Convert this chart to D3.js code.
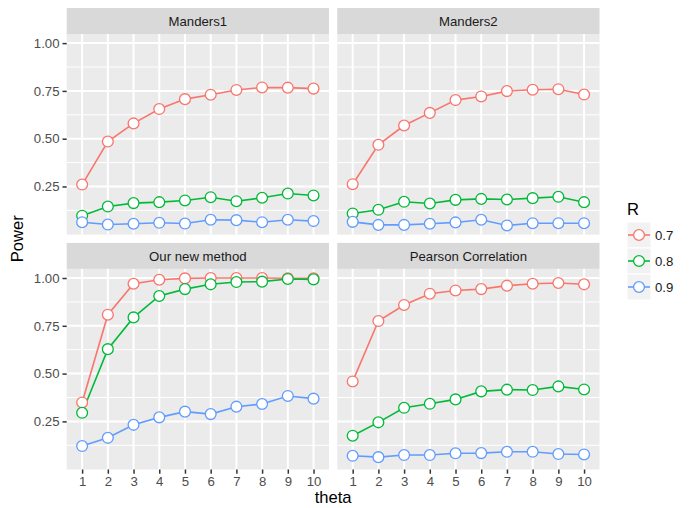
<!DOCTYPE html>
<html>
<head>
<meta charset="utf-8">
<script src="https://cdn.jsdelivr.net/npm/d3@7"></script>
<style>
  body { margin: 0; background: #fff; }
  text { font-family: "Liberation Sans", Arial, Helvetica, sans-serif; }
</style>
</head>
<body>
<div id="chart"></div>
<script>
// data
const theta = [1, 2, 3, 4, 5, 6, 7, 8, 9, 10];
const facets = ['Manders1', 'Manders2', 'Our new method', 'Pearson Correlation'];
const rLevels = ['0.7', '0.8', '0.9'];
const yTicks = [0.25, 0.50, 0.75, 1.00];

const manders1R07 = [0.26, 0.485, 0.58, 0.655, 0.707, 0.73, 0.755, 0.768, 0.767, 0.762];
const manders1R08 = [0.097, 0.145, 0.163, 0.168, 0.177, 0.194, 0.173, 0.191, 0.213, 0.203];
const manders1R09 = [0.063, 0.051, 0.055, 0.060, 0.056, 0.076, 0.074, 0.063, 0.076, 0.069];

const manders2R07 = [0.262, 0.468, 0.569, 0.635, 0.702, 0.721, 0.749, 0.756, 0.759, 0.731];
const manders2R08 = [0.109, 0.128, 0.170, 0.161, 0.180, 0.185, 0.182, 0.189, 0.196, 0.168];
const manders2R09 = [0.065, 0.049, 0.049, 0.055, 0.062, 0.076, 0.046, 0.058, 0.058, 0.058];

const newMethodR07 = [0.349, 0.808, 0.970, 0.991, 0.998, 1.0, 1.0, 1.0, 0.999, 0.999];
const newMethodR08 = [0.295, 0.628, 0.794, 0.906, 0.942, 0.967, 0.979, 0.981, 0.995, 0.993];
const newMethodR09 = [0.121, 0.164, 0.232, 0.271, 0.301, 0.288, 0.327, 0.341, 0.383, 0.369];

const pearsonR07 = [0.459, 0.775, 0.859, 0.918, 0.935, 0.942, 0.960, 0.970, 0.974, 0.967];
const pearsonR08 = [0.175, 0.245, 0.321, 0.342, 0.365, 0.407, 0.416, 0.414, 0.433, 0.417];
const pearsonR09 = [0.070, 0.063, 0.074, 0.074, 0.083, 0.084, 0.091, 0.091, 0.079, 0.077];

const colors = ['#F8766D', '#00BA38', '#619CFF'];

// facet -> list of series (one per R level)
const panelSeries = [
    [manders1R07, manders1R08, manders1R09],
    [manders2R07, manders2R08, manders2R09],
    [newMethodR07, newMethodR08, newMethodR09],
    [pearsonR07, pearsonR08, pearsonR09]
];

const width = 689;
const height = 508;
const margin = { top: 8, right: 89.5, bottom: 38.5, left: 66.7 };
const gap = 8.3;
const stripH = 26;

const plotW = width - margin.left - margin.right;
const plotH = height - margin.top - margin.bottom;
const panelW = (plotW - gap) / 2;
const panelH = (plotH - gap) / 2 - stripH;

const svg = d3.select('#chart')
    .append('svg')
    .attr('width', width)
    .attr('height', height);

// scales shared by all panels (fixed scales)
const xScale = d3.scalePoint()
    .domain(theta)
    .range([0, panelW])
    .padding(0.6);

const allValues = panelSeries.flat(2);
const yMin = d3.min(allValues);
const yMax = d3.max(allValues);
const yPad = (yMax - yMin) * 0.05;
const yScale = d3.scaleLinear()
    .domain([yMin - yPad, yMax + yPad])
    .range([panelH, 0]);

const minorTicks = [];
yTicks.forEach((t, i) => {
    const prev = i === 0 ? t - (yTicks[1] - yTicks[0]) : yTicks[i - 1];
    const m = (t + prev) / 2;
    if (m >= yScale.domain()[0] && m <= yScale.domain()[1]) minorTicks.push(m);
});

const line = d3.line()
    .x((d, i) => xScale(theta[i]))
    .y(d => yScale(d));

facets.forEach((name, p) => {
    const col = p % 2;
    const row = Math.floor(p / 2);
    const px = margin.left + col * (panelW + gap);
    const py = margin.top + row * (stripH + panelH + gap);

    const g = svg.append('g').attr('transform', `translate(${px},${py})`);

    // strip
    g.append('rect')
        .attr('width', panelW)
        .attr('height', stripH)
        .attr('fill', '#d9d9d9');
    g.append('text')
        .attr('x', panelW / 2)
        .attr('y', stripH / 2)
        .attr('dy', '0.36em')
        .attr('text-anchor', 'middle')
        .attr('fill', '#1a1a1a')
        .style('font-size', '13.2px')
        .text(name);

    const panel = g.append('g').attr('transform', `translate(0,${stripH})`);

    panel.append('rect')
        .attr('width', panelW)
        .attr('height', panelH)
        .attr('fill', '#ebebeb');

    // minor grid
    panel.selectAll('.minor')
        .data(minorTicks)
        .enter().append('line')
        .attr('x1', 0).attr('x2', panelW)
        .attr('y1', d => yScale(d)).attr('y2', d => yScale(d))
        .attr('stroke', '#fff')
        .attr('stroke-width', 1);

    // major grid
    panel.selectAll('.hmajor')
        .data(yTicks)
        .enter().append('line')
        .attr('x1', 0).attr('x2', panelW)
        .attr('y1', d => yScale(d)).attr('y2', d => yScale(d))
        .attr('stroke', '#fff')
        .attr('stroke-width', 2);
    panel.selectAll('.vmajor')
        .data(theta)
        .enter().append('line')
        .attr('y1', 0).attr('y2', panelH)
        .attr('x1', d => xScale(d)).attr('x2', d => xScale(d))
        .attr('stroke', '#fff')
        .attr('stroke-width', 2);

    // lines
    panelSeries[p].forEach((vals, s) => {
        panel.append('path')
            .datum(vals)
            .attr('d', line)
            .attr('fill', 'none')
            .attr('stroke', colors[s])
            .attr('stroke-width', 1.6);
    });

    // points
    panelSeries[p].forEach((vals, s) => {
        panel.selectAll(null)
            .data(vals)
            .enter().append('circle')
            .attr('cx', (d, i) => xScale(theta[i]))
            .attr('cy', d => yScale(d))
            .attr('r', 5.4)
            .attr('fill', '#fff')
            .attr('stroke', colors[s])
            .attr('stroke-width', 1.3);
    });

    // y axis on left column
    if (col === 0) {
        const yAxis = panel.append('g')
            .call(d3.axisLeft(yScale).tickValues(yTicks).tickFormat(d3.format('.2f')).tickSize(4.2).tickPadding(3));
        yAxis.select('.domain').remove();
        yAxis.selectAll('line').attr('stroke', '#333').attr('stroke-width', 1.5);
        yAxis.selectAll('text')
            .attr('fill', '#4d4d4d')
            .style('font-size', '13.2px')
            .style('font-family', '"Liberation Sans", Arial, sans-serif');
    }

    // x axis on bottom row
    if (row === 1) {
        const xAxis = panel.append('g')
            .attr('transform', `translate(0,${panelH})`)
            .call(d3.axisBottom(xScale).tickSize(4.2).tickPadding(3));
        xAxis.select('.domain').remove();
        xAxis.selectAll('line').attr('stroke', '#333').attr('stroke-width', 1.5);
        xAxis.selectAll('text')
            .attr('fill', '#4d4d4d')
            .style('font-size', '13.2px')
            .style('font-family', '"Liberation Sans", Arial, sans-serif');
    }
});

// axis titles
svg.append('text')
    .attr('x', margin.left + plotW / 2)
    .attr('y', 503)
    .attr('text-anchor', 'middle')
    .style('font-size', '16.6px')
    .text('theta');

svg.append('text')
    .attr('transform', `translate(23,${margin.top + plotH / 2}) rotate(-90)`)
    .attr('text-anchor', 'middle')
    .style('font-size', '16.6px')
    .text('Power');

// legend
const legend = svg.append('g').attr('transform', 'translate(627,222)');
legend.append('text')
    .attr('x', 0)
    .attr('y', -7)
    .style('font-size', '16.6px')
    .text('R');

const keyW = 24;
const keyH = 26;
rLevels.forEach((lvl, i) => {
    const k = legend.append('g').attr('transform', `translate(0,${i * keyH})`);
    k.append('rect')
        .attr('width', keyW)
        .attr('height', keyH)
        .attr('fill', '#f2f2f2')
        .attr('stroke', '#fff')
        .attr('stroke-width', 1);
    k.append('line')
        .attr('x1', 1).attr('x2', keyW - 1)
        .attr('y1', keyH / 2).attr('y2', keyH / 2)
        .attr('stroke', colors[i])
        .attr('stroke-width', 1.6);
    k.append('circle')
        .attr('cx', keyW / 2)
        .attr('cy', keyH / 2)
        .attr('r', 5.4)
        .attr('fill', '#fff')
        .attr('stroke', colors[i])
        .attr('stroke-width', 1.3);
    k.append('text')
        .attr('x', keyW + 4)
        .attr('y', keyH / 2)
        .attr('dy', '0.36em')
        .style('font-size', '13.2px')
        .attr('fill', '#1a1a1a')
        .text(lvl);
});
</script>
</body>
</html>
